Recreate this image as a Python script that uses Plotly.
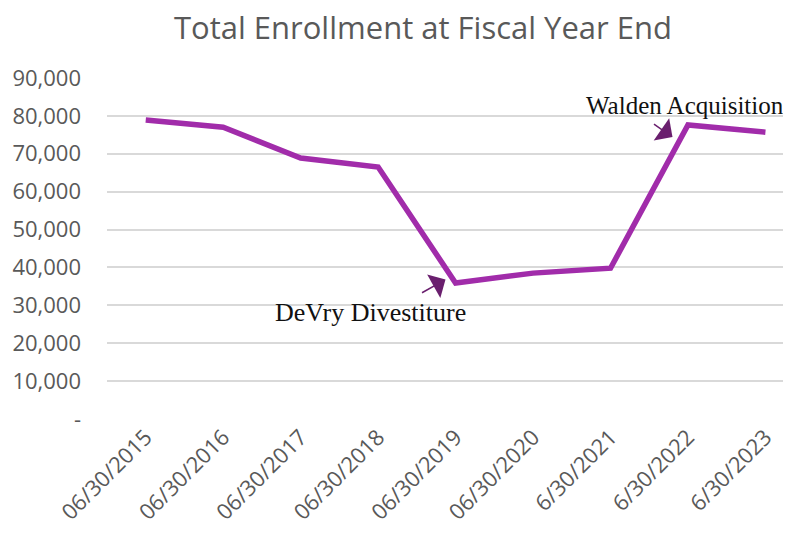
import plotly.graph_objects as go

dates = ["06/30/2015", "06/30/2016", "06/30/2017", "06/30/2018", "06/30/2019",
         "06/30/2020", "6/30/2021", "6/30/2022", "6/30/2023"]
enrollment = [78900, 77000, 68900, 66500, 35900, 38500, 39800, 77600, 75700]
ytick_vals = [0, 10000, 20000, 30000, 40000, 50000, 60000, 70000, 80000, 90000]
ytick_text = ["-", "10,000", "20,000", "30,000", "40,000", "50,000", "60,000",
              "70,000", "80,000", "90,000"]

xi = list(range(len(dates)))

fig = go.Figure()
fig.add_trace(go.Scatter(x=xi, y=enrollment, mode="lines",
                         line=dict(color="#A12CAA", width=5.5),
                         hoverinfo="skip"))

grey = "#595959"
fig.update_layout(
    width=783, height=525,
    margin=dict(l=99, r=0, t=70, b=114, autoexpand=False),
    paper_bgcolor="white", plot_bgcolor="white",
    showlegend=False,
    title=dict(text="Total Enrollment at Fiscal Year End", x=0.530, xanchor="center",
               y=0.962, yanchor="middle",
               font=dict(family="Open Sans", size=31, color=grey)),
    xaxis=dict(range=[-0.5, 8.33], tickmode="array", tickvals=xi, ticktext=dates,
               tickangle=-45, showgrid=False, zeroline=False, showline=False,
               automargin=False,
               ticks="", tickfont=dict(family="Open Sans", size=22, color=grey)),
    yaxis=dict(range=[0, 90000], tickmode="array", tickvals=ytick_vals,
               ticktext=ytick_text, gridcolor="#D9D9D9", gridwidth=1.5,
               automargin=False,
               zeroline=False, showline=False, ticks="", ticklabelstandoff=25,
               tickfont=dict(family="Open Sans", size=22, color=grey)),
)

serif = "Liberation Serif"
fig.add_annotation(x=2.9, y=28200, xref="x", yref="y", text="DeVry Divestiture",
                   showarrow=False, font=dict(family=serif, size=26, color="#111111"))
fig.add_annotation(x=3.87, y=36800, xref="x", yref="y", ax=-25, ay=14, text="",
                   showarrow=True, arrowhead=1, arrowsize=3, arrowwidth=1.5,
                   arrowcolor="#6A1F6E")
fig.add_annotation(x=6.96, y=82800, xref="x", yref="y", text="Walden Acquisition",
                   showarrow=False, font=dict(family=serif, size=25, color="#111111"))
fig.add_annotation(x=6.80, y=74400, xref="x", yref="y", ax=-20, ay=-14, text="",
                   showarrow=True, arrowhead=1, arrowsize=3, arrowwidth=1.5,
                   arrowcolor="#6A1F6E")

fig.write_html("out.html")
